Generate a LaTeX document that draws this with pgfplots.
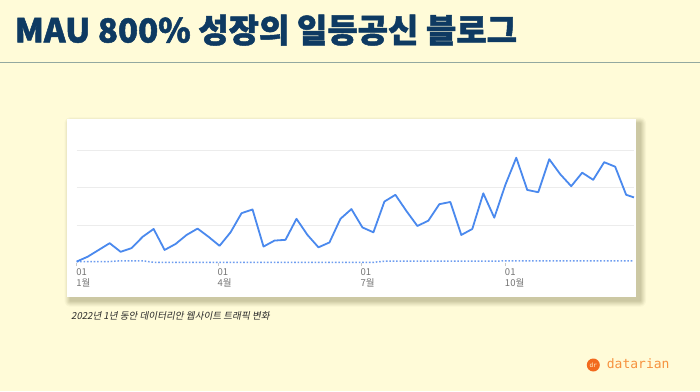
\documentclass[border=0pt]{standalone}
\usepackage{pgfplots}
\usepackage{pgfplotstable}
\pgfplotsset{compat=1.18}
\usepackage{fontspec}
\setmainfont{Noto Sans CJK KR}
\newfontfamily\cjk{Noto Sans CJK KR}
\newfontfamily\cjktitle{Noto Sans CJK KR}[BoldFeatures={FakeBold=1.5}]
\newfontfamily\cjkit{Noto Sans CJK KR}[FakeSlant=0.2]
\newfontfamily\logofont{DejaVu Sans Mono}

\definecolor{bgyellow}{HTML}{FFFBD8}
\definecolor{titlenavy}{HTML}{0E3A62}
\definecolor{divider}{HTML}{93A8A0}
\definecolor{mainblue}{HTML}{4A89EE}
\definecolor{dotblue}{HTML}{6E9DF0}
\definecolor{gridgray}{HTML}{ECECEC}
\definecolor{tickgray}{HTML}{757575}
\definecolor{captiongray}{HTML}{2B2B2B}
\definecolor{logoorange}{HTML}{F26A1E}
\definecolor{logotext}{HTML}{F6923F}
\definecolor{shadowcol}{HTML}{8A8760}

\pgfplotstableread{
x y
0 0.03
7 0.16
14 0.34
21 0.52
28 0.29
35 0.39
42 0.69
49 0.90
56 0.34
63 0.50
70 0.74
77 0.91
84 0.69
91 0.45
98 0.81
105 1.32
112 1.42
119 0.43
126 0.59
133 0.61
140 1.17
147 0.74
154 0.41
161 0.54
168 1.17
175 1.43
182 0.94
189 0.81
196 1.63
203 1.81
210 1.38
217 0.98
224 1.12
231 1.56
238 1.62
245 0.74
252 0.90
259 1.85
266 1.20
273 2.07
280 2.80
287 1.94
294 1.88
301 2.76
308 2.36
315 2.04
322 2.40
329 2.21
336 2.68
343 2.56
350 1.81
355 1.74
}\mainvisits

\pgfplotstableread{
x y
0 0.03
7 0.03
14 0.03
21 0.03
28 0.05
35 0.05
42 0.05
49 0.01
56 0.01
63 0.01
70 0.01
77 0.01
84 0.01
91 0.01
98 0.01
105 0.01
112 0.01
119 0.01
126 0.01
133 0.01
140 0.01
147 0.01
154 0.01
161 0.01
168 0.01
175 0.01
182 0.01
189 0.01
196 0.04
203 0.04
210 0.04
217 0.04
224 0.04
231 0.04
238 0.04
245 0.04
252 0.04
259 0.04
266 0.04
273 0.05
280 0.05
287 0.05
294 0.05
301 0.05
308 0.05
315 0.05
322 0.05
329 0.05
336 0.05
343 0.05
350 0.05
355 0.05
}\prevvisits

\begin{document}
\begin{tikzpicture}
% background
\fill[bgyellow] (0pt,0pt) rectangle (700pt,391pt);
% title
\node[anchor=base west, inner sep=0pt, text=titlenavy, font=\cjktitle\bfseries\fontsize{33}{33}\selectfont] at (14.7pt,348.5pt) {MAU 800\% 성장의 일등공신 블로그};
% divider
\draw[divider, line width=1.3pt] (0pt,328.3pt) -- (700pt,328.3pt);
% card shadow
\foreach \i/\o in {6/0.06,5/0.07,4/0.08,3/0.09,2/0.10,1/0.12}{
  \fill[shadowcol, opacity=\o, rounded corners=\i pt] ({70.5pt-\i pt},{90.3pt-\i pt}) rectangle ({640pt+\i pt},{267.7pt+\i pt});
}
% card
\fill[white] (66.5pt,94.3pt) rectangle (636pt,271.7pt);
% chart
\begin{axis}[
  at={(76.7pt,128.3pt)}, anchor=south west,
  scale only axis, width=557.3pt, height=112.5pt,
  xmin=0, xmax=355, ymin=0, ymax=3,
  axis lines=left, axis line style={draw=none},
  xtick={0,90,181,273},
  xticklabels={{01\\1월},{01\\4월},{01\\7월},{01\\10월}},
  x tick label style={font=\cjk\fontsize{9.5}{10.5}\selectfont, text=tickgray, align=left, anchor=north west, inner sep=0pt, yshift=-3pt, xshift=-0.5pt},
  xtick style={draw=tickgray!40, line width=0.6pt},
  tick align=outside, major tick length=3pt,
  ytick={1,2,3}, yticklabels={}, ytick style={draw=none},
  ymajorgrids, grid style={draw=gridgray, line width=0.9pt},
  clip=false,
]
\addplot[dotblue, line width=1.5pt, dash pattern=on 1.6pt off 1.8pt] table {\prevvisits};
\addplot[mainblue, line width=1.8pt, line join=round] table {\mainvisits};
\end{axis}
% caption
\node[anchor=base west, inner sep=0pt, text=captiongray, font=\cjkit\fontsize{9.6}{11}\selectfont] at (71pt,72pt) {2022년 1년 동안 데이터리안 웹사이트 트래픽 변화};
% logo
\fill[logoorange] (593.3pt,26pt) circle (6.5pt);
\node[text=bgyellow, inner sep=0pt, font=\logofont\fontsize{6}{6}\selectfont] at (593.3pt,26pt) {dr};
\node[anchor=base west, inner sep=0pt, text=logotext, font=\logofont\fontsize{13}{13}\selectfont] at (606.7pt,22.5pt) {datarian};
\pgfresetboundingbox
\useasboundingbox (0pt,0pt) rectangle (700pt,391pt);
\end{tikzpicture}
\end{document}
